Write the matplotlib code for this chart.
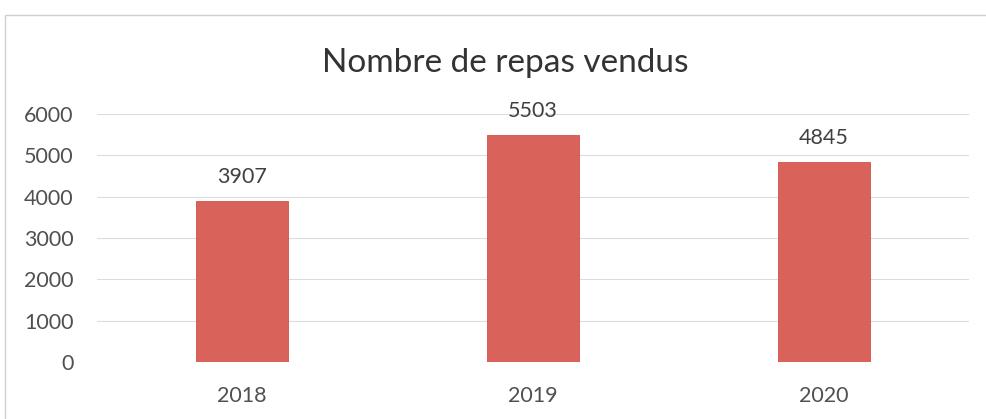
import matplotlib
matplotlib.use("Agg")
import matplotlib.pyplot as plt
from matplotlib.patches import Rectangle

years = ["2018", "2019", "2020"]
values = [3907, 5503, 4845]
yticks = [0, 1000, 2000, 3000, 4000, 5000, 6000]

plt.rcParams['font.family'] = ['Lato', 'DejaVu Sans']

fig = plt.figure(figsize=(9.87, 4.19), dpi=100)
fig.patches.append(Rectangle((5/987, -0.05), 1.2, 1 - 15/419 + 0.05, transform=fig.transFigure,
                             fill=False, edgecolor='#d0d0d0', linewidth=1.0))
ax = fig.add_axes([96.5/987, 1 - 362/419, (969.5 - 96.5)/987, (362 - 114)/419])

x = range(len(years))
bars = ax.bar(x, values, width=0.316, color='#d9625a', edgecolor='#d4504a', linewidth=0.6, zorder=3)
for xi, v in zip(x, values):
    ax.annotate(str(v), (xi, v), xytext=(0, 12.6), textcoords='offset points',
                ha='center', va='baseline', fontsize=15.5, color='#404040')

ax.set_xlim(-0.5, 2.5)
ax.set_ylim(0, 6000)
ax.set_yticks(yticks)
ax.set_xticks(list(x))
ax.set_xticklabels(years)
ax.grid(axis='y', color='#dcdcdc', linewidth=0.8, zorder=0)
for s in ax.spines.values():
    s.set_visible(False)
ax.tick_params(axis='both', length=0, labelsize=15.5, colors='#505050')
ax.tick_params(axis='y', pad=16.5)
ax.tick_params(axis='x', pad=17.5)

fig.text((318 + 692) / 2 / 987, 1 - 72/419, "Nombre de repas vendus", ha='center', va='baseline',
         fontsize=24, color='#333333')

fig.savefig("out.png", dpi=100)
